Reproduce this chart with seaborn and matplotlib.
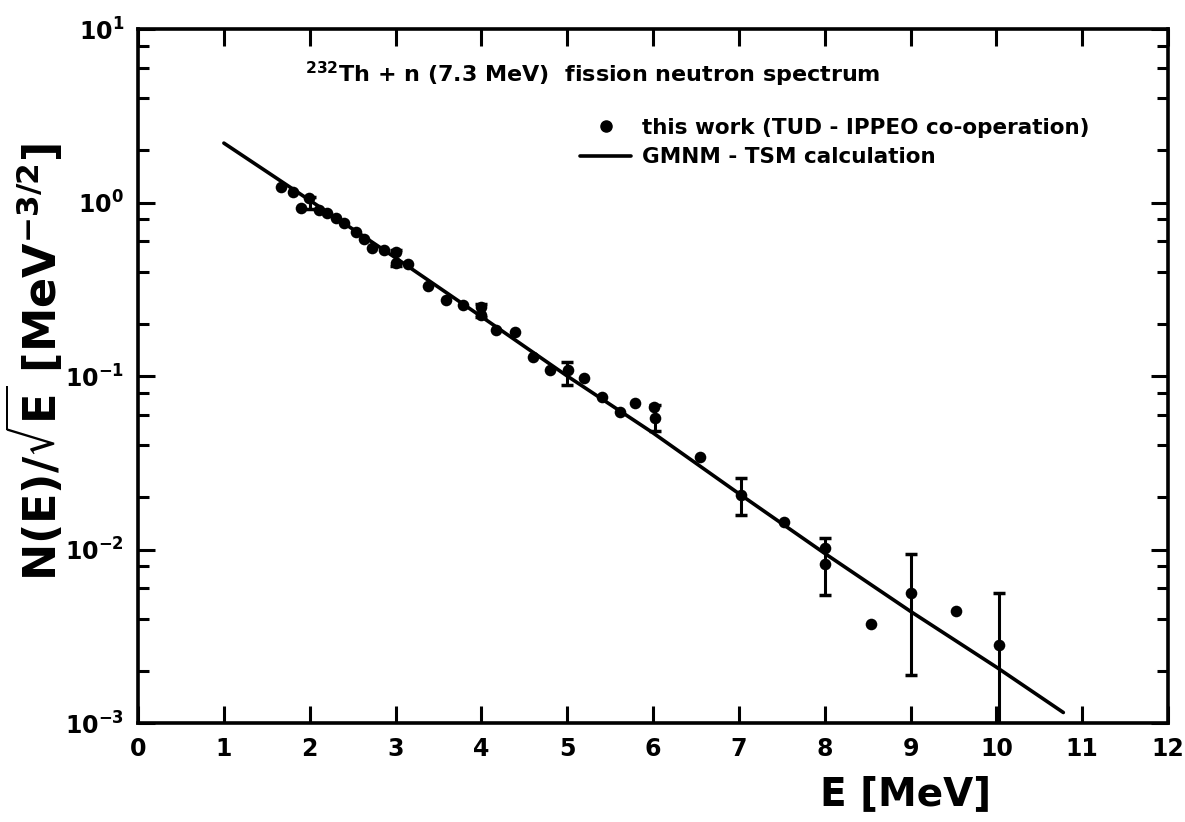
import numpy as np
import pandas as pd
import seaborn as sns
import matplotlib.pyplot as plt
from matplotlib.lines import Line2D
from matplotlib.ticker import LogLocator, NullFormatter

# measured points, E in MeV, N(E)/sqrt(E) in MeV^-3/2
energy = [1.67, 1.80, 1.90, 1.99, 2.11, 2.20, 2.31, 2.40, 2.54, 2.63, 2.72, 2.86,
          3.00, 3.01, 3.15, 3.38, 3.59, 3.79, 3.99, 3.99, 4.17, 4.39, 4.60, 4.80,
          5.01, 5.20, 5.41, 5.62, 5.79, 6.01, 6.02, 6.55, 7.03, 7.53, 8.00, 8.00,
          8.54, 9.00, 9.53, 10.03]
spectrum = [1.23, 1.15, 0.93, 1.06, 0.906, 0.87, 0.81, 0.76, 0.68, 0.62, 0.55, 0.53,
            0.52, 0.45, 0.44, 0.33, 0.274, 0.257, 0.25, 0.225, 0.184, 0.179, 0.129, 0.108,
            0.108, 0.097, 0.0757, 0.062, 0.070, 0.066, 0.057, 0.034, 0.0206, 0.0144, 0.0102, 0.0083,
            0.0037, 0.0056, 0.0044, 0.0028]

# points carrying error bars
err_energy = [2.0, 3.0, 4.0, 5.0, 6.02, 7.03, 8.0, 9.0, 10.03]
err_value = [1.0, 0.48, 0.24, 0.105, 0.058, 0.0206, 0.0085, 0.0056, 0.0028]
err_low = [0.92, 0.43, 0.22, 0.089, 0.048, 0.0158, 0.0055, 0.0019, 0.0009]
err_high = [1.08, 0.53, 0.26, 0.12, 0.068, 0.0258, 0.0117, 0.0094, 0.0056]

# GMNM - TSM calculation
calc_energy = [1.0, 2.0, 3.0, 4.0, 5.0, 6.0, 7.0, 8.0, 9.0, 10.0, 10.78]
calc_value = [2.2, 1.03, 0.48, 0.22, 0.10, 0.047, 0.021, 0.0095, 0.0044, 0.0021, 0.00115]

sns.set_theme(style="ticks")
plt.rcParams["font.family"] = ["DejaVu Sans"]
plt.rcParams["font.weight"] = "bold"
plt.rcParams["mathtext.default"] = "regular"
for key in ["text.color", "axes.labelcolor", "xtick.color", "ytick.color", "axes.edgecolor"]:
    plt.rcParams[key] = "black"

fig = plt.figure(figsize=(11.85, 8.22), dpi=100)
ax = fig.add_axes([0.1165, 0.1204, 0.8692, 0.8443])

points = pd.DataFrame({"E": energy, "N": spectrum})
calc = pd.DataFrame({"E": calc_energy, "N": calc_value})

sns.lineplot(data=calc, x="E", y="N", color="black", linewidth=2.6, ax=ax)
sns.scatterplot(data=points, x="E", y="N", color="black", s=70, edgecolor="black",
                linewidth=0, ax=ax, zorder=3)

yerr = [np.array(err_value) - np.array(err_low), np.array(err_high) - np.array(err_value)]
ax.errorbar(err_energy, err_value, yerr=yerr, fmt="none", ecolor="black",
            elinewidth=2.2, capsize=4, capthick=2.5)

ax.set_yscale("log")
ax.set_xlim(0, 12)
ax.set_ylim(1e-3, 1e1)
ax.set_xticks(range(0, 13))
ax.yaxis.set_major_locator(LogLocator(base=10, numticks=10))
ax.yaxis.set_minor_locator(LogLocator(base=10, subs=(2, 4, 6, 8), numticks=10))
ax.yaxis.set_minor_formatter(NullFormatter())

ax.tick_params(which="both", direction="in", top=True, right=True, width=2.2)
ax.tick_params(which="major", length=12, labelsize=17, pad=10)
ax.tick_params(which="minor", length=8)
for lab in ax.get_xticklabels() + ax.get_yticklabels():
    lab.set_fontweight("bold")
for sp in ax.spines.values():
    sp.set_linewidth(2.6)

ax.set_xlabel("E [MeV]", fontsize=28, fontweight="bold")
ax.xaxis.set_label_coords(0.745, -0.075)
ax.set_ylabel(r"N(E)/$\sqrt{E}$ [MeV$^{-3/2}$]", fontsize=32, fontweight="bold")
ax.yaxis.set_label_coords(-0.07, 0.52)

ax.text(0.162, 0.934, r"$^{232}$Th + n (7.3 MeV)  fission neutron spectrum",
        transform=ax.transAxes, fontsize=16, fontweight="bold", va="center")

handles = [
    Line2D([], [], marker="o", color="black", linestyle="none", markersize=8),
    Line2D([], [], color="black", linewidth=2.6),
]
labels = ["this work (TUD - IPPEO co-operation)", "GMNM - TSM calculation"]
ax.legend(handles, labels, loc="upper left", bbox_to_anchor=(0.41, 0.9), frameon=False,
          prop={"size": 15.5, "weight": "bold"}, handlelength=2.4, handletextpad=0.5,
          labelspacing=0.45)

fig.savefig("out.png", dpi=100)
